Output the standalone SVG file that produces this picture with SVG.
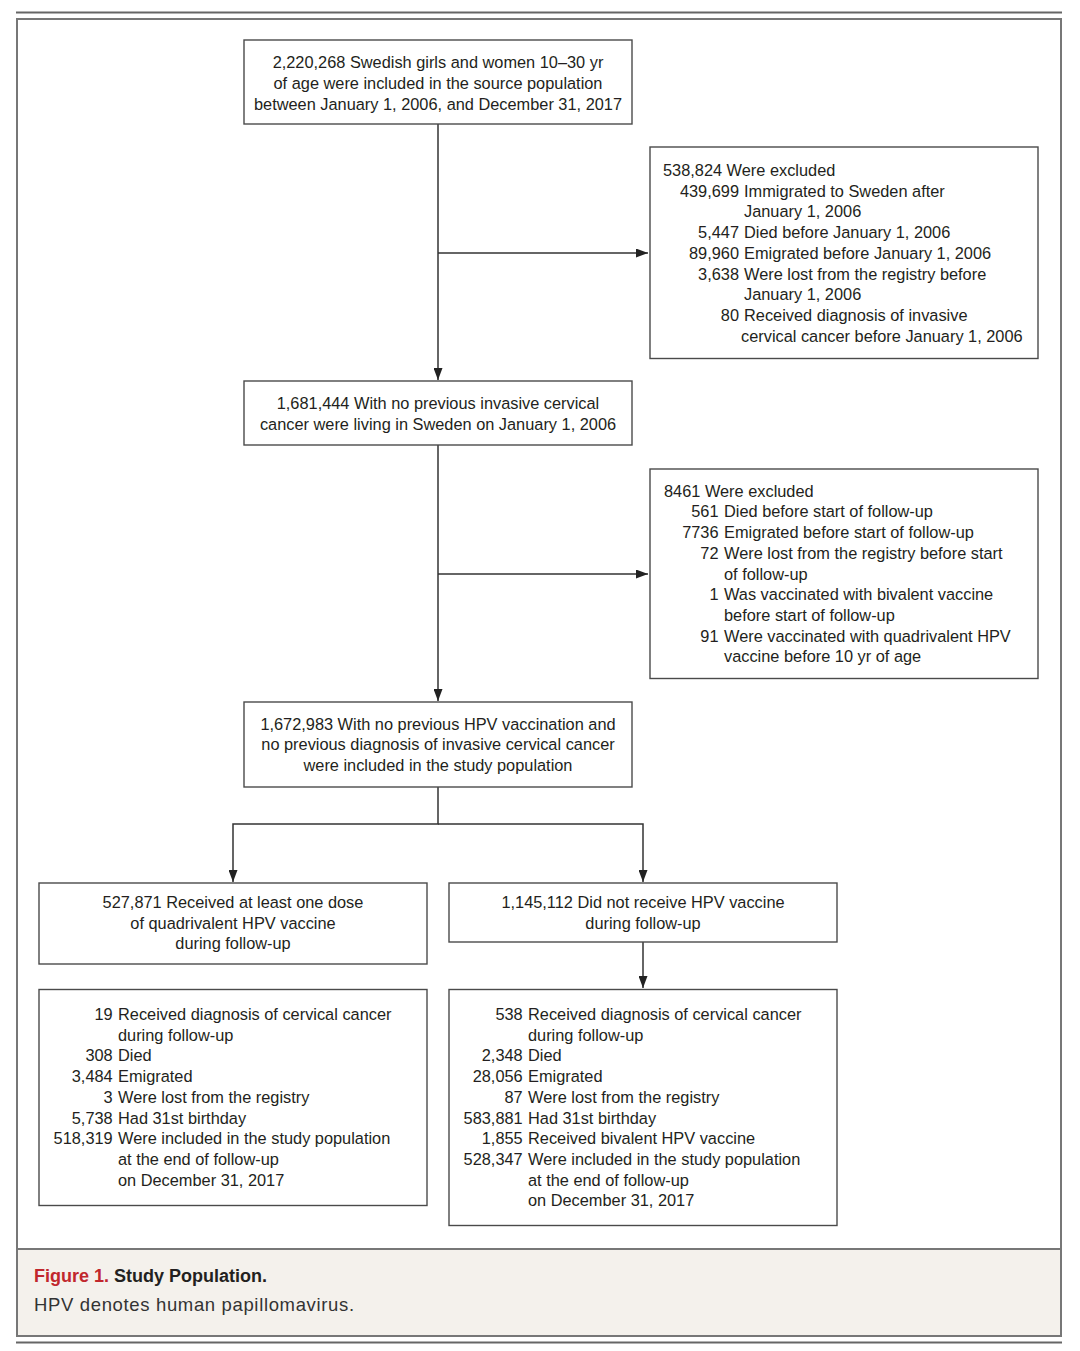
<svg xmlns="http://www.w3.org/2000/svg" width="1080" height="1351" viewBox="0 0 1080 1351">
<defs>
<style>
text{font-family:"Liberation Sans",Arial,sans-serif;font-size:16.35px;fill:#231f20}
.c{text-anchor:middle}
.r{text-anchor:end}
.box{fill:#fff;stroke:#4a4a4a;stroke-width:1.4}
.ln{fill:none;stroke:#333;stroke-width:1.5}
.cap1{font-size:18px;font-weight:bold}
.cap2{font-size:18.5px;letter-spacing:0.65px;fill:#333}
</style>
<marker id="ah" markerUnits="userSpaceOnUse" markerWidth="13" markerHeight="9" refX="12" refY="4.5" orient="auto">
<path d="M0,0 L12,4.5 L0,9 z" fill="#222"/>
</marker>
</defs>
<rect x="0" y="0" width="1080" height="1351" fill="#fff"/>
<line x1="16" y1="12.5" x2="1062" y2="12.5" stroke="#666" stroke-width="2"/>
<line x1="16" y1="1342.5" x2="1062" y2="1342.5" stroke="#666" stroke-width="2"/>
<rect x="17" y="1249" width="1044" height="87" fill="#f4f1ec"/>
<rect x="17" y="19" width="1044" height="1317" fill="none" stroke="#777" stroke-width="2"/>
<line x1="17" y1="1249" x2="1061" y2="1249" stroke="#777" stroke-width="2"/>
<g id="caption">
<text x="34" y="1282" class="cap1"><tspan fill="#c1272d">Figure 1.</tspan> Study Population.</text>
<text x="34" y="1311" class="cap2">HPV denotes human papillomavirus.</text>
</g>
<g id="connectors">
<line class="ln" x1="438" y1="124" x2="438" y2="380" marker-end="url(#ah)"/>
<line class="ln" x1="438" y1="253" x2="648" y2="253" marker-end="url(#ah)"/>
<line class="ln" x1="438" y1="445" x2="438" y2="701" marker-end="url(#ah)"/>
<line class="ln" x1="438" y1="574" x2="648" y2="574" marker-end="url(#ah)"/>
<polyline class="ln" points="438,787 438,824 233,824 233,882" marker-end="url(#ah)"/>
<polyline class="ln" points="438,824 643,824 643,882" marker-end="url(#ah)"/>
<line class="ln" x1="643" y1="942" x2="643" y2="988" marker-end="url(#ah)"/>
</g>
<g id="source">
<rect class="box" x="244" y="40" width="388" height="84"/>
<text class="c" x="438" y="68.3">2,220,268 Swedish girls and women 10–30 yr</text>
<text class="c" x="438" y="89">of age were included in the source population</text>
<text class="c" x="438" y="109.7">between January 1, 2006, and December 31, 2017</text>
</g>
<g id="excluded1">
<rect class="box" x="650" y="147" width="388" height="211.5"/>
<text x="663" y="176">538,824 Were excluded</text>
<text class="r" x="739" y="196.7">439,699</text><text x="744" y="196.7">Immigrated to Sweden after</text>
<text x="744" y="217.4">January 1, 2006</text>
<text class="r" x="739" y="238.1">5,447</text><text x="744" y="238.1">Died before January 1, 2006</text>
<text class="r" x="739" y="258.8">89,960</text><text x="744" y="258.8">Emigrated before January 1, 2006</text>
<text class="r" x="739" y="279.5">3,638</text><text x="744" y="279.5">Were lost from the registry before</text>
<text x="744" y="300.2">January 1, 2006</text>
<text class="r" x="739" y="320.9">80</text><text x="744" y="320.9">Received diagnosis of invasive</text>
<text x="741" y="341.6">cervical cancer before January 1, 2006</text>
</g>
<g id="living">
<rect class="box" x="244" y="381" width="388" height="64"/>
<text class="c" x="438" y="409">1,681,444 With no previous invasive cervical</text>
<text class="c" x="438" y="429.7">cancer were living in Sweden on January 1, 2006</text>
</g>
<g id="excluded2">
<rect class="box" x="650" y="469" width="388" height="209.5"/>
<text x="664" y="496.7">8461 Were excluded</text>
<text class="r" x="718.5" y="517.4">561</text><text x="724" y="517.4">Died before start of follow-up</text>
<text class="r" x="718.5" y="538.1">7736</text><text x="724" y="538.1">Emigrated before start of follow-up</text>
<text class="r" x="718.5" y="558.8">72</text><text x="724" y="558.8">Were lost from the registry before start</text>
<text x="724" y="579.5">of follow-up</text>
<text class="r" x="718.5" y="600.2">1</text><text x="724" y="600.2">Was vaccinated with bivalent vaccine</text>
<text x="724" y="620.9">before start of follow-up</text>
<text class="r" x="718.5" y="641.6">91</text><text x="724" y="641.6">Were vaccinated with quadrivalent HPV</text>
<text x="724" y="662.3">vaccine before 10 yr of age</text>
</g>
<g id="study">
<rect class="box" x="244" y="702" width="388" height="85"/>
<text class="c" x="438" y="729.5">1,672,983 With no previous HPV vaccination and</text>
<text class="c" x="438" y="750.2">no previous diagnosis of invasive cervical cancer</text>
<text class="c" x="438" y="770.9">were included in the study population</text>
</g>
<g id="vaccinated">
<rect class="box" x="39" y="883" width="388" height="81"/>
<text class="c" x="233" y="908">527,871 Received at least one dose</text>
<text class="c" x="233" y="928.7">of quadrivalent HPV vaccine</text>
<text class="c" x="233" y="949.4">during follow-up</text>
</g>
<g id="unvaccinated">
<rect class="box" x="449" y="883" width="388" height="59"/>
<text class="c" x="643" y="908">1,145,112 Did not receive HPV vaccine</text>
<text class="c" x="643" y="928.7">during follow-up</text>
</g>
<g id="outcome-vaccinated">
<rect class="box" x="39" y="989.5" width="388" height="216"/>
<text class="r" x="112.7" y="1020">19</text><text x="118" y="1020">Received diagnosis of cervical cancer</text>
<text x="118" y="1040.7">during follow-up</text>
<text class="r" x="112.7" y="1061.4">308</text><text x="118" y="1061.4">Died</text>
<text class="r" x="112.7" y="1082.1">3,484</text><text x="118" y="1082.1">Emigrated</text>
<text class="r" x="112.7" y="1102.8">3</text><text x="118" y="1102.8">Were lost from the registry</text>
<text class="r" x="112.7" y="1123.5">5,738</text><text x="118" y="1123.5">Had 31st birthday</text>
<text class="r" x="112.7" y="1144.2">518,319</text><text x="118" y="1144.2">Were included in the study population</text>
<text x="118" y="1164.9">at the end of follow-up</text>
<text x="118" y="1185.6">on December 31, 2017</text>
</g>
<g id="outcome-unvaccinated">
<rect class="box" x="449" y="989.5" width="388" height="236"/>
<text class="r" x="522.7" y="1020">538</text><text x="528" y="1020">Received diagnosis of cervical cancer</text>
<text x="528" y="1040.7">during follow-up</text>
<text class="r" x="522.7" y="1061.4">2,348</text><text x="528" y="1061.4">Died</text>
<text class="r" x="522.7" y="1082.1">28,056</text><text x="528" y="1082.1">Emigrated</text>
<text class="r" x="522.7" y="1102.8">87</text><text x="528" y="1102.8">Were lost from the registry</text>
<text class="r" x="522.7" y="1123.5">583,881</text><text x="528" y="1123.5">Had 31st birthday</text>
<text class="r" x="522.7" y="1144.2">1,855</text><text x="528" y="1144.2">Received bivalent HPV vaccine</text>
<text class="r" x="522.7" y="1164.9">528,347</text><text x="528" y="1164.9">Were included in the study population</text>
<text x="528" y="1185.6">at the end of follow-up</text>
<text x="528" y="1206.3">on December 31, 2017</text>
</g>
</svg>
